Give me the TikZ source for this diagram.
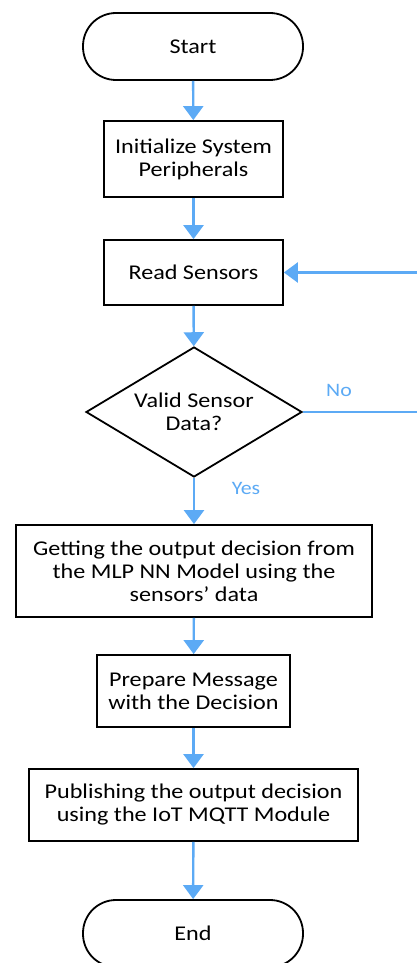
\documentclass[tikz,border=0pt]{standalone}
\usepackage{fontspec}
\setmainfont{Carlito}[FakeStretch=1.15]
\usetikzlibrary{shapes.geometric,arrows.meta}
\definecolor{arrblue}{RGB}{92,170,245}
\begin{document}
\begin{tikzpicture}[x=1pt,y=-1pt,
  box/.style={draw=black,line width=1.8pt,rectangle,align=center,font=\fontsize{21}{23}\selectfont,inner sep=0pt},
  term/.style={box,rounded corners=33pt},
  dec/.style={draw=black,line width=1.8pt,diamond,shape aspect=1.66,align=center,font=\fontsize{21}{23}\selectfont,inner sep=0pt},
  arr/.style={draw=arrblue,line width=2.4pt,-{Triangle[width=20pt,length=14pt]}},
  lbl/.style={text=arrblue,font=\fontsize{19}{22}\selectfont}]
\useasboundingbox (0,0) rectangle (417,963);
\fill[white] (0,0) rectangle (417,963);
\node[term,minimum width=220pt,minimum height=67pt] (start) at (193,46.5) {Start};
\node[box,minimum width=179pt,minimum height=76pt] (init) at (193.5,159) {Initialize System\\Peripherals};
\node[box,minimum width=179pt,minimum height=65pt] (read) at (193.5,272.5) {Read Sensors};
\node[dec,minimum width=216pt,minimum height=130pt] (dia) at (194,412) {Valid Sensor\\Data?};
\node[box,minimum width=356pt,minimum height=92pt] (get) at (194,571) {Getting the output decision from\\the MLP NN Model using the\\sensors’ data};
\node[box,minimum width=193pt,minimum height=72pt] (prep) at (193.5,691) {Prepare Message\\with the Decision};
\node[box,minimum width=329pt,minimum height=72pt] (pub) at (193.5,805) {Publishing the output decision\\using the IoT MQTT Module};
\node[term,minimum width=220pt,minimum height=67pt] (end) at (193,933.5) {End};
\coordinate (loopc) at (420,0);
\draw[arr] (start) -- (init);
\draw[arr] (init) -- (read);
\draw[arr] (read) -- (dia);
\draw[arr] (dia) -- (get);
\draw[arr] (get) -- (prep);
\draw[arr] (prep) -- (pub);
\draw[arr] (pub) -- (end);
\draw[arr] (dia.east) -- (dia.east -| loopc) |- (read.east);
\node[lbl] (no) at (339,390) {No};
\node[lbl] (yes) at (246,488) {Yes};
\end{tikzpicture}
\end{document}
